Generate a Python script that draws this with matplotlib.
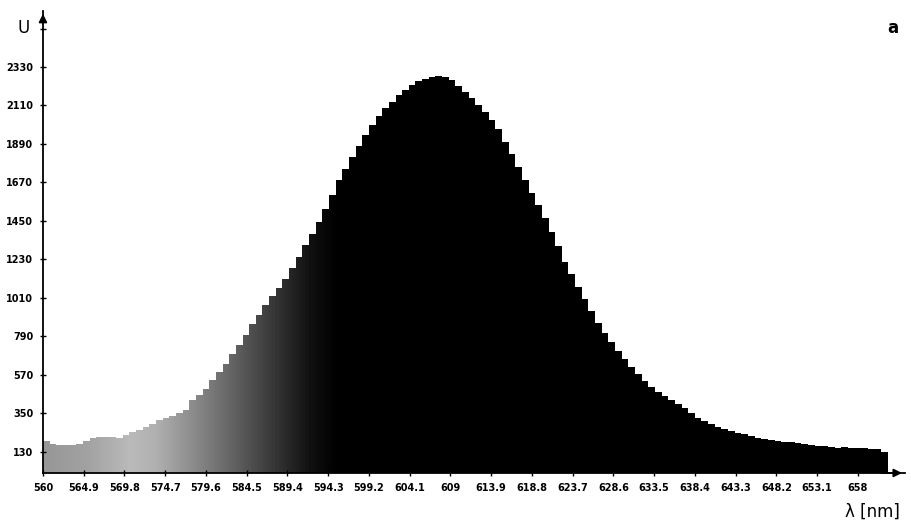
import numpy as np
import matplotlib
matplotlib.use("Agg")
import matplotlib.pyplot as plt
from matplotlib.colors import LinearSegmentedColormap

# spectrum, bins 0.8 nm wide starting at 560 nm
bin_start = 560.0
bin_width = 0.8
counts = [190, 176, 172, 170, 170, 173, 195, 210, 214, 216,
          218, 212, 228, 244, 258, 274, 292, 310, 322, 336,
          352, 368, 427, 456, 490, 541, 587, 633, 690, 741,
          799, 861, 913, 970, 1021, 1067, 1119, 1181, 1244, 1313,
          1376, 1444, 1518, 1598, 1684, 1747, 1816, 1878, 1941, 1998,
          2050, 2096, 2130, 2170, 2198, 2227, 2250, 2261, 2273, 2278,
          2273, 2256, 2221, 2187, 2153, 2113, 2073, 2027, 1976, 1901,
          1833, 1758, 1684, 1610, 1541, 1467, 1387, 1307, 1216, 1147,
          1073, 1004, 936, 867, 810, 759, 707, 661, 616, 576,
          536, 501, 473, 450, 427, 404, 381, 353, 324, 307,
          290, 273, 261, 250, 239, 233, 221, 210, 204, 199,
          193, 187, 187, 181, 176, 170, 164, 164, 159, 153,
          159, 153, 153, 153, 147, 147, 130]

x_ticks = [560, 564.9, 569.8, 574.7, 579.6, 584.5, 589.4, 594.3, 599.2, 604.1,
           609, 613.9, 618.8, 623.7, 628.6, 633.5, 638.4, 643.3, 648.2, 653.1, 658]
x_labels = ["560", "564.9", "569.8", "574.7", "579.6", "584.5", "589.4", "594.3",
            "599.2", "604.1", "609", "613.9", "618.8", "623.7", "628.6", "633.5",
            "638.4", "643.3", "648.2", "653.1", "658"]
y_ticks = [130, 350, 570, 790, 1010, 1230, 1450, 1670, 1890, 2110, 2330, 2550]
y_labels = ["130", "350", "570", "790", "1010", "1230", "1450", "1670",
            "1890", "2110", "2330", ""]

edges = bin_start + bin_width * np.arange(len(counts) + 1)

fig = plt.figure(figsize=(9.12, 5.29), dpi=100)
ax = fig.add_axes([0.0471, 0.1059, 0.945, 0.8733])
ax.set_xlim(560, 663.65)
ax.set_ylim(10, 2650)

# grey -> black gradient under the curve (stops as fraction of the x range)
shade = LinearSegmentedColormap.from_list(
    "shade",
    [(0.0, "#979797"), (0.05, "#a2a2a2"), (0.10, "#bababa"), (0.13, "#b0b0b0"),
     (0.17, "#8e8e8e"), (0.22, "#626262"), (0.27, "#343434"), (0.31, "#101010"),
     (0.34, "#000000"), (1.0, "#000000")])
patch = ax.stairs(counts, edges, fill=True, facecolor="none", edgecolor="none",
                  baseline=10)
grad = np.linspace(0, 1, 512).reshape(1, -1)
img = ax.imshow(grad, cmap=shade, aspect="auto", extent=[560, 663.65, 10, 2650],
                origin="lower", interpolation="bilinear")
img.set_clip_path(patch)

for s in ["top", "right"]:
    ax.spines[s].set_visible(False)
ax.spines["left"].set_linewidth(1.3)
ax.spines["bottom"].set_linewidth(1.3)

ax.annotate("", xy=(1.0, 0), xytext=(0.97, 0), xycoords="axes fraction",
            arrowprops=dict(arrowstyle="-|>", color="black", lw=1.3,
                            mutation_scale=12))
ax.annotate("", xy=(0, 1.0), xytext=(0, 0.97), xycoords="axes fraction",
            arrowprops=dict(arrowstyle="-|>", color="black", lw=1.3,
                            mutation_scale=12))

ax.set_xticks(x_ticks)
ax.set_xticklabels(x_labels, fontsize=7, fontweight="bold")
ax.set_yticks(y_ticks)
ax.set_yticklabels(y_labels, fontsize=7, fontweight="bold")
ax.tick_params(axis="both", direction="inout", length=4, width=1, pad=5)

fig.text(18 / 912, 1 - 28 / 529, "U", fontsize=12, ha="left", va="center")
fig.text(893 / 912, 1 - 28 / 529, "a", fontsize=12, fontweight="bold",
         ha="center", va="center")
fig.text(872 / 912, 1 - 512 / 529, "λ [nm]", fontsize=12, ha="center",
         va="center")

fig.savefig("out.png", dpi=100)
